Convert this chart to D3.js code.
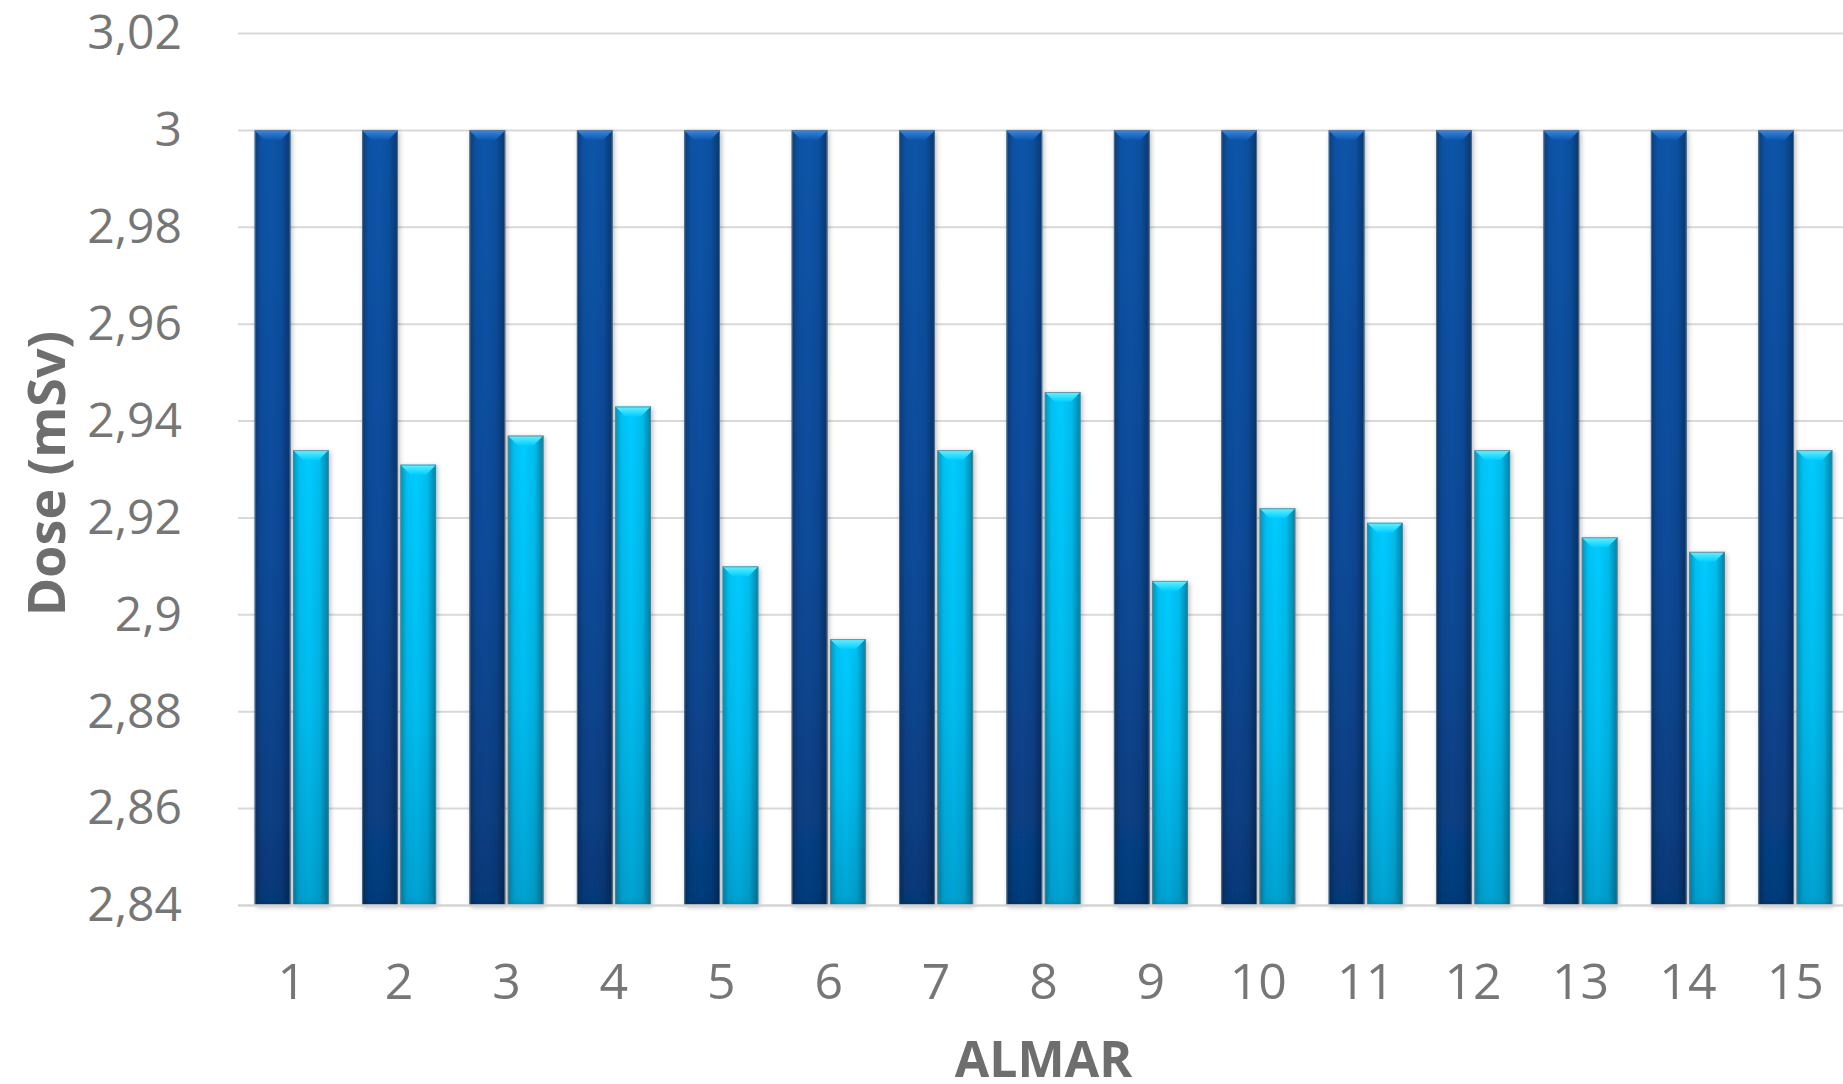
<!DOCTYPE html>
<html>
<head>
<meta charset="utf-8">
<script src="https://cdn.jsdelivr.net/npm/d3@7"></script>
<style>
  html, body { margin: 0; padding: 0; background: #ffffff; overflow: hidden; }
  svg { display: block; }
</style>
</head>
<body>
<svg id="chart" width="1843" height="1084"></svg>
<script>
// ---- data ----
const categories = ["1", "2", "3", "4", "5", "6", "7", "8", "9", "10", "11", "12", "13", "14", "15"];
const seriesKeys = ["s1", "s2"];
const series1 = [3.00, 3.00, 3.00, 3.00, 3.00, 3.00, 3.00, 3.00, 3.00, 3.00, 3.00, 3.00, 3.00, 3.00, 3.00];
const series2 = [2.934, 2.931, 2.937, 2.943, 2.910, 2.895, 2.934, 2.946, 2.907, 2.922, 2.919, 2.934, 2.916, 2.913, 2.934];
const yTicks = [2.84, 2.86, 2.88, 2.90, 2.92, 2.94, 2.96, 2.98, 3.00, 3.02];
const yTitle = "Dose (mSv)";
const xTitle = "ALMAR";

// ---- layout ----
const W = 1843, H = 1084;
const plot = { left: 238, right: 1849, top: 33.5, bottom: 905.5 };
const FONT = "'Open Sans', 'Noto Sans', sans-serif";
const TEXT = "#767676";

const svg = d3.select("#chart");

const rows = categories.map((c, i) => ({ cat: c, s1: series1[i], s2: series2[i] }));

const x = d3.scaleBand().domain(categories).range([plot.left, plot.right]).paddingInner(0).paddingOuter(0);
const xs = d3.scaleBand().domain(seriesKeys)
  .range([x.bandwidth() * 0.1555, x.bandwidth() * (1 - 0.1555)])
  .paddingInner(0.068);
const y = d3.scaleLinear().domain([2.84, 3.02]).range([plot.bottom, plot.top]);

const locale = d3.formatLocale({ decimal: ",", thousands: ".", grouping: [3], currency: ["", ""] });
const fmt = locale.format(".2~f");

// ---- defs: bar shading ----
const defs = svg.append("defs");

const palette = {
  s1: { top: "#0b55aa", mid: "#0a4b9a", bottom: "#063b7c", bevelA: "#3a86e0", bevelB: "#0b55aa", edge: "#03264f" },
  s2: { top: "#00cbff", mid: "#00bdf0", bottom: "#00a3d3", bevelA: "#66f2ff", bevelB: "#00ccff", edge: "#006f99" }
};

seriesKeys.forEach(k => {
  const p = palette[k];
  const v = defs.append("linearGradient").attr("id", "fill-" + k)
    .attr("x1", 0).attr("y1", 0).attr("x2", 0).attr("y2", 1);
  v.append("stop").attr("offset", "0%").attr("stop-color", p.top);
  v.append("stop").attr("offset", "55%").attr("stop-color", p.mid);
  v.append("stop").attr("offset", "100%").attr("stop-color", p.bottom);

  const bv = defs.append("linearGradient").attr("id", "bevel-" + k)
    .attr("x1", 0).attr("y1", 0).attr("x2", 0).attr("y2", 1);
  bv.append("stop").attr("offset", "0%").attr("stop-color", p.bevelA);
  bv.append("stop").attr("offset", "100%").attr("stop-color", p.bevelB);

  const bb = defs.append("linearGradient").attr("id", "base-" + k)
    .attr("x1", 0).attr("y1", 0).attr("x2", 0).attr("y2", 1);
  bb.append("stop").attr("offset", "0%").attr("stop-color", p.bottom).attr("stop-opacity", 0);
  bb.append("stop").attr("offset", "100%").attr("stop-color", p.edge).attr("stop-opacity", 0.5);
});

// side shading: darker at both vertical edges, clear in the middle
const side = defs.append("linearGradient").attr("id", "side")
  .attr("x1", 0).attr("y1", 0).attr("x2", 1).attr("y2", 0);
side.append("stop").attr("offset", "0%").attr("stop-color", "#000").attr("stop-opacity", 0.28);
side.append("stop").attr("offset", "18%").attr("stop-color", "#000").attr("stop-opacity", 0.05);
side.append("stop").attr("offset", "45%").attr("stop-color", "#000").attr("stop-opacity", 0.0);
side.append("stop").attr("offset", "75%").attr("stop-color", "#000").attr("stop-opacity", 0.07);
side.append("stop").attr("offset", "100%").attr("stop-color", "#000").attr("stop-opacity", 0.36);

const shadow = defs.append("filter").attr("id", "shadow")
  .attr("x", "-40%").attr("y", "-5%").attr("width", "180%").attr("height", "110%");
shadow.append("feDropShadow").attr("dx", 1.5).attr("dy", 1.5).attr("stdDeviation", 2.5)
  .attr("flood-color", "#000").attr("flood-opacity", 0.28);

// ---- gridlines ----
svg.append("g").attr("class", "grid")
  .selectAll("line").data(yTicks.filter(t => t > 2.84)).join("line")
  .attr("x1", plot.left).attr("x2", W)
  .attr("y1", d => y(d)).attr("y2", d => y(d))
  .attr("stroke", "#d9d9d9").attr("stroke-width", 2);

// ---- axes ----
const yAxis = svg.append("g").attr("transform", `translate(${plot.left},0)`)
  .call(d3.axisLeft(y).tickValues(yTicks).tickFormat(fmt).tickSize(0).tickPadding(56));
yAxis.select(".domain").remove();
yAxis.selectAll("text").attr("font-family", FONT).attr("font-size", 48).attr("fill", TEXT);

const xAxis = svg.append("g").attr("transform", `translate(0,${plot.bottom})`)
  .call(d3.axisBottom(x).tickSize(0).tickPadding(58));
xAxis.select(".domain").remove();
xAxis.selectAll("text").attr("font-family", FONT).attr("font-size", 50).attr("fill", TEXT);

// ---- bars ----
const bevel = 10;
const groups = svg.append("g").attr("class", "bars")
  .selectAll("g").data(rows).join("g")
  .attr("transform", d => `translate(${x(d.cat)},0)`);

const bars = groups.selectAll("g")
  .data(d => seriesKeys.map(k => ({ key: k, value: d[k] })))
  .join("g");

bars.each(function (d) {
  const g = d3.select(this);
  const bx = xs(d.key), bw = xs.bandwidth();
  const y0 = y(d.value), y1 = y(2.84);
  g.append("rect").attr("x", bx).attr("y", y0).attr("width", bw).attr("height", y1 - y0)
    .attr("fill", `url(#fill-${d.key})`).attr("filter", "url(#shadow)");
  g.append("rect").attr("x", bx).attr("y", y0).attr("width", bw).attr("height", y1 - y0)
    .attr("fill", "url(#side)");
  g.append("polygon")
    .attr("points", [[bx, y0], [bx + bw, y0], [bx + bw - bevel, y0 + bevel], [bx + bevel, y0 + bevel]].join(" "))
    .attr("fill", `url(#bevel-${d.key})`);
  g.append("polygon")
    .attr("points", [[bx, y1], [bx + bevel, y1 - bevel], [bx + bw - bevel, y1 - bevel], [bx + bw, y1]].join(" "))
    .attr("fill", `url(#base-${d.key})`);
  g.append("rect").attr("x", bx + 0.5).attr("y", y0 + 0.5).attr("width", bw - 1).attr("height", y1 - y0 - 1)
    .attr("fill", "none").attr("stroke", "#6b7b88").attr("stroke-opacity", 0.75).attr("stroke-width", 1);
});

// ---- baseline ----
svg.append("line")
  .attr("x1", plot.left).attr("x2", W)
  .attr("y1", plot.bottom).attr("y2", plot.bottom)
  .attr("stroke", "#d4d4d4").attr("stroke-width", 2.5);

// ---- titles ----
svg.append("text")
  .attr("transform", `translate(65,${(plot.top + plot.bottom) / 2 + 4}) rotate(-90)`)
  .attr("text-anchor", "middle")
  .attr("font-family", FONT).attr("font-weight", 700).attr("font-size", 52)
  .attr("fill", "#6e6e6e")
  .text(yTitle);

svg.append("text")
  .attr("x", (plot.left + plot.right) / 2).attr("y", 1077)
  .attr("text-anchor", "middle")
  .attr("font-family", FONT).attr("font-weight", 700).attr("font-size", 50)
  .attr("fill", "#6e6e6e")
  .text(xTitle);
</script>
</body>
</html>
